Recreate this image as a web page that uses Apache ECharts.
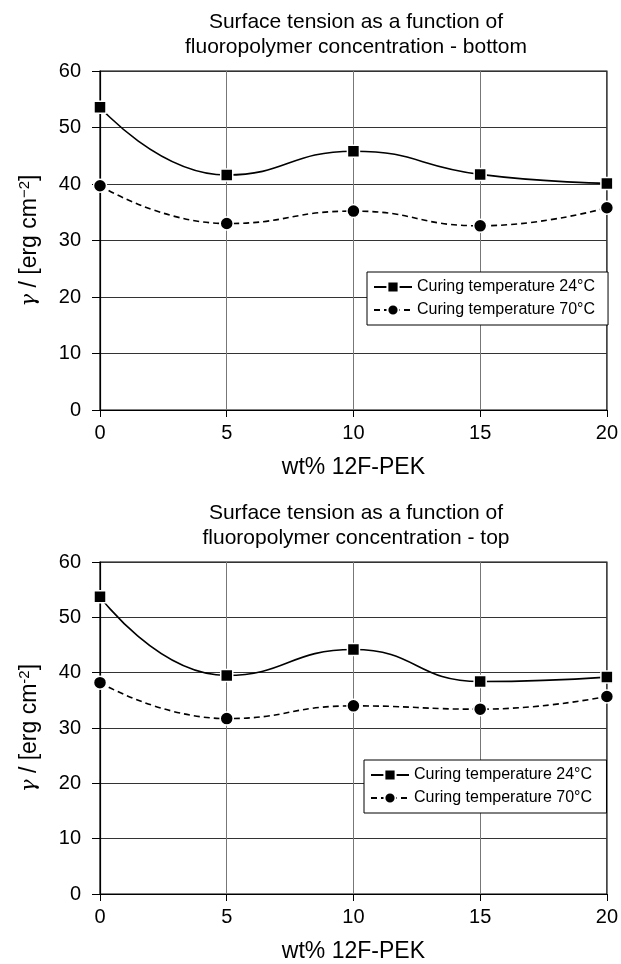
<!DOCTYPE html>
<html><head><meta charset="utf-8">
<script src="https://cdn.jsdelivr.net/npm/echarts@6/dist/echarts.min.js"></script>
<style>html,body{margin:0;padding:0;background:#fff}#c{width:621px;height:964px}</style>
</head><body><div id="c"></div>
<script>
const xValues = [0, 5, 10, 15, 20];
const bottom24 = [53.6, 41.6, 45.8, 41.7, 40.1];
const bottom70 = [39.7, 33.0, 35.2, 32.6, 35.8];
const top24 = [53.7, 39.5, 44.2, 38.4, 39.2];
const top70 = [38.2, 31.7, 34.0, 33.4, 35.7];
const yTicks = [0, 10, 20, 30, 40, 50, 60];
const seriesNames = ['Curing temperature 24\u00b0C', 'Curing temperature 70\u00b0C'];
const titles = ['Surface tension as a function of\nfluoropolymer concentration - bottom',
                'Surface tension as a function of\nfluoropolymer concentration - top'];

const FONT = 'Liberation Sans';
const chart = echarts.init(document.getElementById('c'));
const pair = (xs, ys) => xs.map((x, i) => [x, ys[i]]);

function xAxis(gi) {
  return {
    type: 'value', gridIndex: gi, min: 0, max: 20, interval: 5,
    name: 'wt% 12F-PEK', nameLocation: 'middle', nameGap: 46,
    nameTextStyle: { fontFamily: FONT, fontSize: 23, color: '#000' },
    axisLine: { show: true, lineStyle: { color: '#000', width: 1.2 } },
    axisTick: { show: true, length: 7, inside: false, lineStyle: { color: '#000' } },
    axisLabel: { fontFamily: FONT, fontSize: 20, color: '#000', margin: 13 },
    splitLine: { show: true, lineStyle: { color: '#777', width: 1 } }
  };
}
function yAxis(gi, sup) {
  return {
    type: 'value', gridIndex: gi, min: yTicks[0], max: yTicks[yTicks.length - 1], interval: 10,
    name: '{g|\u03b3} / [erg cm{s|' + sup + '}]', nameLocation: 'middle', nameGap: 58, nameRotate: 90,
    nameTextStyle: {
      fontFamily: FONT, fontSize: 23, color: '#000',
      rich: {
        g: { fontFamily: 'DejaVu Serif', fontStyle: 'italic', fontSize: 21, color: '#000' },
        s: { fontFamily: FONT, fontSize: 15, color: '#000', verticalAlign: 'top', padding: [0, 0, 10, 0] }
      }
    },
    axisLine: { show: true, lineStyle: { color: '#000', width: 1.2 } },
    axisTick: { show: true, length: 8, inside: false, lineStyle: { color: '#000' } },
    axisLabel: { fontFamily: FONT, fontSize: 20, color: '#000', margin: 19 },
    splitLine: { show: true, lineStyle: { color: '#333', width: 1 } }
  };
}
function lineSeries(name, gi, data, dashed, symbol, size) {
  return {
    name: name, type: 'line', xAxisIndex: gi, yAxisIndex: gi,
    data: data, smooth: 0.5, symbol: symbol, symbolSize: size,
    lineStyle: { color: '#000', width: 1.6, type: dashed ? [6, 4] : 'solid' },
    itemStyle: { color: '#000', borderColor: '#fff', borderWidth: 1.5 },
    z: 3
  };
}

const n0 = seriesNames.slice();
const n1 = seriesNames.map(s => s + ' ');

const legendBase = {
  orient: 'vertical', backgroundColor: '#fff', borderColor: '#000', borderWidth: 1,
  padding: [7, 13, 7, 6], itemGap: 7, itemWidth: 38, itemHeight: 14,
  textStyle: { fontFamily: FONT, fontSize: 16, color: '#000' }
};

chart.setOption({
  animation: false,
  backgroundColor: '#fff',
  title: titles.map((t, i) => ({
    text: t, left: 356, textAlign: 'center', top: i ? 501 : 10, padding: 0,
    textStyle: { fontFamily: FONT, fontSize: 21, fontWeight: 'normal', color: '#000', lineHeight: 25 }
  })),
  grid: [
    { left: 100, right: 9, top: 71, height: 339, show: true, borderColor: '#000', borderWidth: 1.2 },
    { left: 100, right: 9, top: 562, height: 336, show: true, borderColor: '#000', borderWidth: 1.2 }
  ],
  legend: [
    Object.assign({}, legendBase, { data: n0, left: 367, top: 272 }),
    Object.assign({}, legendBase, { data: n1, left: 364, top: 760, padding: [7, 10, 7, 6] })
  ],
  xAxis: [xAxis(0), xAxis(1)],
  yAxis: [yAxis(0, '\u22122'), yAxis(1, '-2')],
  series: [
    lineSeries(n0[0], 0, pair(xValues, bottom24), false, 'rect', 12),
    lineSeries(n0[1], 0, pair(xValues, bottom70), true, 'circle', 13),
    lineSeries(n1[0], 1, pair(xValues, top24), false, 'rect', 12),
    lineSeries(n1[1], 1, pair(xValues, top70), true, 'circle', 13)
  ]
});
</script></body></html>
